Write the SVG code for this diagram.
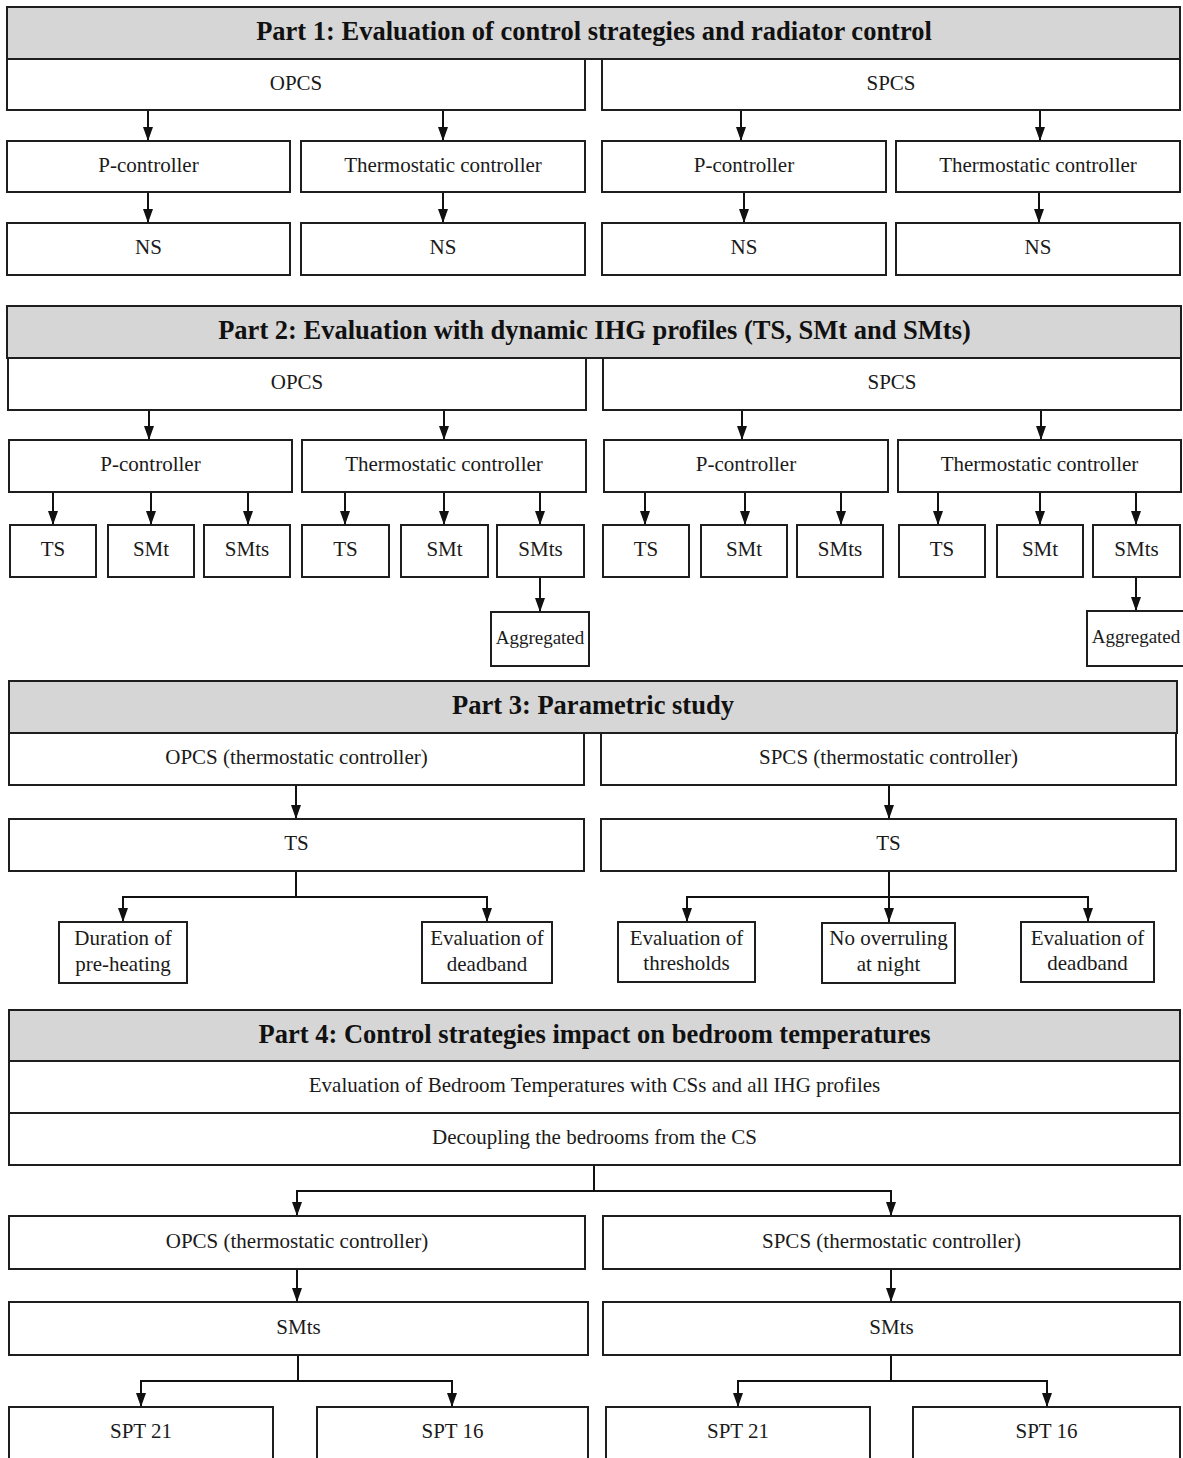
<svg xmlns="http://www.w3.org/2000/svg" width="1183" height="1458" viewBox="0 0 1183 1458">
<defs>
<style>
.box{fill:#fff;stroke:#1e1e1e;stroke-width:2}
.hdr{fill:#d6d6d6;stroke:#1e1e1e;stroke-width:2}
.t{font-family:"Liberation Serif","Times New Roman",serif;font-size:21px;fill:#1a1a1a;text-anchor:middle}
.s{font-size:19px}
.h{font-family:"Liberation Serif","Times New Roman",serif;font-size:26.5px;font-weight:bold;fill:#111;text-anchor:middle}
.c{fill:none;stroke:#111;stroke-width:2}
</style>
<marker id="ah" viewBox="0 0 14 10" refX="14" refY="5" markerWidth="14" markerHeight="10" markerUnits="userSpaceOnUse" orient="auto">
<path d="M0,0 L14,5 L0,10 z" fill="#111"/>
</marker>
</defs>
<rect width="1183" height="1458" fill="#fff"/>

<g id="connectors">
<!-- Part 1 -->
<path class="c" d="M148,110 V141" marker-end="url(#ah)"/>
<path class="c" d="M443,110 V141" marker-end="url(#ah)"/>
<path class="c" d="M741,110 V141" marker-end="url(#ah)"/>
<path class="c" d="M1040,110 V141" marker-end="url(#ah)"/>
<path class="c" d="M148,192 V223" marker-end="url(#ah)"/>
<path class="c" d="M443,192 V223" marker-end="url(#ah)"/>
<path class="c" d="M744,192 V223" marker-end="url(#ah)"/>
<path class="c" d="M1039,192 V223" marker-end="url(#ah)"/>
<!-- Part 2 -->
<path class="c" d="M149,410 V440" marker-end="url(#ah)"/>
<path class="c" d="M444,410 V440" marker-end="url(#ah)"/>
<path class="c" d="M742,410 V440" marker-end="url(#ah)"/>
<path class="c" d="M1041,410 V440" marker-end="url(#ah)"/>
<path class="c" d="M53,492 V525" marker-end="url(#ah)"/>
<path class="c" d="M151,492 V525" marker-end="url(#ah)"/>
<path class="c" d="M248,492 V525" marker-end="url(#ah)"/>
<path class="c" d="M345,492 V525" marker-end="url(#ah)"/>
<path class="c" d="M444,492 V525" marker-end="url(#ah)"/>
<path class="c" d="M540,492 V525" marker-end="url(#ah)"/>
<path class="c" d="M645,492 V525" marker-end="url(#ah)"/>
<path class="c" d="M745,492 V525" marker-end="url(#ah)"/>
<path class="c" d="M841,492 V525" marker-end="url(#ah)"/>
<path class="c" d="M938,492 V525" marker-end="url(#ah)"/>
<path class="c" d="M1040,492 V525" marker-end="url(#ah)"/>
<path class="c" d="M1136,492 V525" marker-end="url(#ah)"/>
<path class="c" d="M540,577 V612" marker-end="url(#ah)"/>
<path class="c" d="M1136,577 V611" marker-end="url(#ah)"/>
<!-- Part 3 -->
<path class="c" d="M296,785 V819" marker-end="url(#ah)"/>
<path class="c" d="M889,785 V819" marker-end="url(#ah)"/>
<path class="c" d="M296,871 V897"/>
<path class="c" d="M123,922 V897 H487 V922" marker-end="url(#ah)"/>
<path class="c" d="M123,897 V922" marker-end="url(#ah)"/>
<path class="c" d="M889,871 V922" marker-end="url(#ah)"/>
<path class="c" d="M687,922 V897 H1088 V922" marker-end="url(#ah)"/>
<path class="c" d="M687,897 V922" marker-end="url(#ah)"/>
<!-- Part 4 -->
<path class="c" d="M594,1165 V1191"/>
<path class="c" d="M297,1216 V1191 H891 V1216" marker-end="url(#ah)"/>
<path class="c" d="M297,1191 V1216" marker-end="url(#ah)"/>
<path class="c" d="M297,1269 V1302" marker-end="url(#ah)"/>
<path class="c" d="M891,1269 V1302" marker-end="url(#ah)"/>
<path class="c" d="M298,1355 V1381"/>
<path class="c" d="M141,1407 V1381 H452 V1407" marker-end="url(#ah)"/>
<path class="c" d="M141,1381 V1407" marker-end="url(#ah)"/>
<path class="c" d="M891,1355 V1381"/>
<path class="c" d="M738,1407 V1381 H1047 V1407" marker-end="url(#ah)"/>
<path class="c" d="M738,1381 V1407" marker-end="url(#ah)"/>
</g>

<!-- Part 1 -->
<g id="part1-header"><rect class="hdr" x="7" y="7" width="1173" height="52"/><text class="h" x="594" y="40">Part 1: Evaluation of control strategies and radiator control</text></g>
<g id="p1-opcs"><rect class="box" x="7" y="59" width="578" height="51"/><text class="t" x="296" y="90">OPCS</text></g>
<g id="p1-spcs"><rect class="box" x="602" y="59" width="578" height="51"/><text class="t" x="891" y="90">SPCS</text></g>
<g id="p1-opcs-p"><rect class="box" x="7" y="141" width="283" height="51"/><text class="t" x="148.5" y="172">P-controller</text></g>
<g id="p1-opcs-t"><rect class="box" x="301" y="141" width="284" height="51"/><text class="t" x="443" y="172">Thermostatic controller</text></g>
<g id="p1-spcs-p"><rect class="box" x="602" y="141" width="284" height="51"/><text class="t" x="744" y="172">P-controller</text></g>
<g id="p1-spcs-t"><rect class="box" x="896" y="141" width="284" height="51"/><text class="t" x="1038" y="172">Thermostatic controller</text></g>
<g id="p1-ns1"><rect class="box" x="7" y="223" width="283" height="52"/><text class="t" x="148.5" y="254">NS</text></g>
<g id="p1-ns2"><rect class="box" x="301" y="223" width="284" height="52"/><text class="t" x="443" y="254">NS</text></g>
<g id="p1-ns3"><rect class="box" x="602" y="223" width="284" height="52"/><text class="t" x="744" y="254">NS</text></g>
<g id="p1-ns4"><rect class="box" x="896" y="223" width="284" height="52"/><text class="t" x="1038" y="254">NS</text></g>

<!-- Part 2 -->
<g id="part2-header"><rect class="hdr" x="7" y="306" width="1174" height="52"/><text class="h" x="594.5" y="339">Part 2: Evaluation with dynamic IHG profiles (TS, SMt and SMts)</text></g>
<g id="p2-opcs"><rect class="box" x="8" y="358" width="578" height="52"/><text class="t" x="297" y="389">OPCS</text></g>
<g id="p2-spcs"><rect class="box" x="603" y="358" width="578" height="52"/><text class="t" x="892" y="389">SPCS</text></g>
<g id="p2-opcs-p"><rect class="box" x="9" y="440" width="283" height="52"/><text class="t" x="150.5" y="471">P-controller</text></g>
<g id="p2-opcs-t"><rect class="box" x="302" y="440" width="284" height="52"/><text class="t" x="444" y="471">Thermostatic controller</text></g>
<g id="p2-spcs-p"><rect class="box" x="604" y="440" width="284" height="52"/><text class="t" x="746" y="471">P-controller</text></g>
<g id="p2-spcs-t"><rect class="box" x="898" y="440" width="283" height="52"/><text class="t" x="1039.5" y="471">Thermostatic controller</text></g>
<g id="p2-l1"><rect class="box" x="10" y="525" width="86" height="52"/><text class="t" x="53" y="556">TS</text></g>
<g id="p2-l2"><rect class="box" x="108" y="525" width="86" height="52"/><text class="t" x="151" y="556">SMt</text></g>
<g id="p2-l3"><rect class="box" x="204" y="525" width="86" height="52"/><text class="t" x="247" y="556">SMts</text></g>
<g id="p2-l4"><rect class="box" x="302" y="525" width="87" height="52"/><text class="t" x="345.5" y="556">TS</text></g>
<g id="p2-l5"><rect class="box" x="401" y="525" width="87" height="52"/><text class="t" x="444.5" y="556">SMt</text></g>
<g id="p2-l6"><rect class="box" x="497" y="525" width="87" height="52"/><text class="t" x="540.5" y="556">SMts</text></g>
<g id="p2-l7"><rect class="box" x="603" y="525" width="86" height="52"/><text class="t" x="646" y="556">TS</text></g>
<g id="p2-l8"><rect class="box" x="701" y="525" width="86" height="52"/><text class="t" x="744" y="556">SMt</text></g>
<g id="p2-l9"><rect class="box" x="797" y="525" width="86" height="52"/><text class="t" x="840" y="556">SMts</text></g>
<g id="p2-l10"><rect class="box" x="899" y="525" width="86" height="52"/><text class="t" x="942" y="556">TS</text></g>
<g id="p2-l11"><rect class="box" x="997" y="525" width="86" height="52"/><text class="t" x="1040" y="556">SMt</text></g>
<g id="p2-l12"><rect class="box" x="1093" y="525" width="87" height="52"/><text class="t" x="1136.5" y="556">SMts</text></g>
<g id="p2-agg1"><rect class="box" x="491" y="612" width="98" height="54"/><text class="t s" x="540" y="644">Aggregated</text></g>
<g id="p2-agg2"><rect class="box" x="1087" y="611" width="98" height="55"/><text class="t s" x="1136" y="643">Aggregated</text></g>

<!-- Part 3 -->
<g id="part3-header"><rect class="hdr" x="9" y="681" width="1168" height="52"/><text class="h" x="593" y="714">Part 3: Parametric study</text></g>
<g id="p3-opcs"><rect class="box" x="9" y="733" width="575" height="52"/><text class="t" x="296.5" y="764">OPCS (thermostatic controller)</text></g>
<g id="p3-spcs"><rect class="box" x="601" y="733" width="575" height="52"/><text class="t" x="888.5" y="764">SPCS (thermostatic controller)</text></g>
<g id="p3-ts1"><rect class="box" x="9" y="819" width="575" height="52"/><text class="t" x="296.5" y="850">TS</text></g>
<g id="p3-ts2"><rect class="box" x="601" y="819" width="575" height="52"/><text class="t" x="888.5" y="850">TS</text></g>
<g id="p3-dur"><rect class="box" x="59" y="922" width="128" height="61"/><text class="t" x="123" y="945">Duration of</text><text class="t" x="123" y="971">pre-heating</text></g>
<g id="p3-dead1"><rect class="box" x="422" y="922" width="130" height="61"/><text class="t" x="487" y="945">Evaluation of</text><text class="t" x="487" y="971">deadband</text></g>
<g id="p3-thr"><rect class="box" x="618" y="922" width="137" height="60"/><text class="t" x="686.5" y="945">Evaluation of</text><text class="t" x="686.5" y="970">thresholds</text></g>
<g id="p3-night"><rect class="box" x="822" y="923" width="133" height="60"/><text class="t" x="888.5" y="945">No overruling</text><text class="t" x="888.5" y="971">at night</text></g>
<g id="p3-dead2"><rect class="box" x="1021" y="922" width="133" height="60"/><text class="t" x="1087.5" y="945">Evaluation of</text><text class="t" x="1087.5" y="970">deadband</text></g>

<!-- Part 4 -->
<g id="part4-header"><rect class="hdr" x="9" y="1010" width="1171" height="51"/><text class="h" x="594.5" y="1043">Part 4: Control strategies impact on bedroom temperatures</text></g>
<g id="p4-eval"><rect class="box" x="9" y="1061" width="1171" height="52"/><text class="t" x="594.5" y="1092">Evaluation of Bedroom Temperatures with CSs and all IHG profiles</text></g>
<g id="p4-decouple"><rect class="box" x="9" y="1113" width="1171" height="52"/><text class="t" x="594.5" y="1144">Decoupling the bedrooms from the CS</text></g>
<g id="p4-opcs"><rect class="box" x="9" y="1216" width="576" height="53"/><text class="t" x="297" y="1248">OPCS (thermostatic controller)</text></g>
<g id="p4-spcs"><rect class="box" x="603" y="1216" width="577" height="53"/><text class="t" x="891.5" y="1248">SPCS (thermostatic controller)</text></g>
<g id="p4-smts1"><rect class="box" x="9" y="1302" width="579" height="53"/><text class="t" x="298.5" y="1334">SMts</text></g>
<g id="p4-smts2"><rect class="box" x="603" y="1302" width="577" height="53"/><text class="t" x="891.5" y="1334">SMts</text></g>
<g id="p4-spt21a"><rect class="box" x="9" y="1407" width="264" height="60"/><text class="t" x="141" y="1438">SPT 21</text></g>
<g id="p4-spt16a"><rect class="box" x="317" y="1407" width="271" height="60"/><text class="t" x="452.5" y="1438">SPT 16</text></g>
<g id="p4-spt21b"><rect class="box" x="606" y="1407" width="264" height="60"/><text class="t" x="738" y="1438">SPT 21</text></g>
<g id="p4-spt16b"><rect class="box" x="913" y="1407" width="267" height="60"/><text class="t" x="1046.5" y="1438">SPT 16</text></g>
</svg>
